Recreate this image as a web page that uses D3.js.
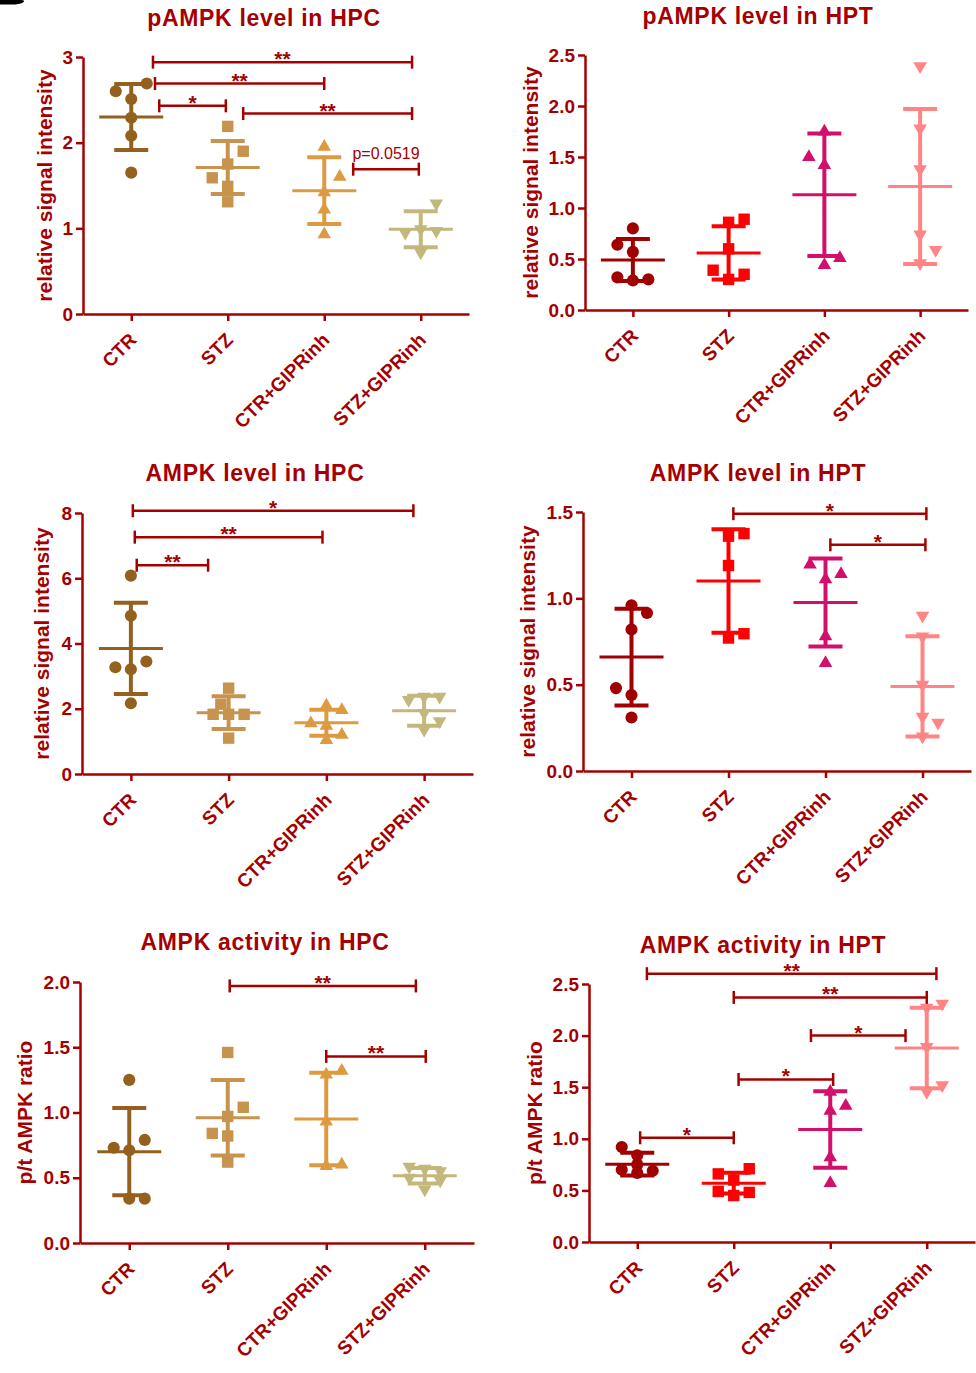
<!DOCTYPE html>
<html>
<head>
<meta charset="UTF-8">
<script src="https://d3js.org/d3.v7.min.js"></script>
<style>
  body { margin: 0; background: #fff; }
  text { font-family: "Liberation Sans", Arial, sans-serif; }
</style>
</head>
<body>
<div id="fig"></div>
<script>
const groups = ["CTR", "STZ", "CTR+GIPRinh", "STZ+GIPRinh"];
const hpcColors = ["#94601e", "#c8934c", "#de9a40", "#c3b87b"];
const hptColors = ["#a00000", "#ff0000", "#d2106c", "#ff8585"];

// pAMPK level in HPC
const pHpcValues = [
  [2.60, 2.69, 2.51, 2.29, 2.08, 1.65],
  [2.19, 1.90, 1.75, 1.59, 1.49, 1.31],
  [1.95, 1.60, 1.42, 1.22, 0.93],
  [1.29, 0.97, 0.99, 0.95, 0.72]
];
const pHpcCols = [[-1, 1, 0, 0, 0, 0], [0, 1, 0, -1, 0, 0], [0, 1, 0, 0, 0], [1, 1, 0, -1, 0]];
const pHpcMean = [2.30, 1.71, 1.44, 0.99];
const pHpcSd = [0.385, 0.31, 0.39, 0.21];
const pHpcTicks = [0, 1, 2, 3];
const pHpcBrackets = [[0.225, 2.91, 2.94, "**"], [0.246, 2.0, 2.69, "**"], [0.29, 0.98, 2.43, "*"],
  [1.16, 2.91, 2.34, "**"], [2.30, 2.98, 1.69, "p=0.0519"]];

// pAMPK level in HPT
const pHptValues = [
  [0.80, 0.64, 0.57, 0.32, 0.29, 0.30],
  [0.89, 0.86, 0.60, 0.39, 0.30, 0.35],
  [1.75, 1.50, 1.42, 0.44, 0.51],
  [2.39, 1.78, 1.38, 0.74, 0.59, 0.46]
];
const pHptCols = [[0, -1, 0, -1, 0, 1], [1, 0, 0, -1, 0, 1], [0, -1, 0, 0, 1], [0, 0, 0, 0, 1, 0]];
const pHptMean = [0.49, 0.56, 1.13, 1.21];
const pHptSd = [0.205, 0.26, 0.60, 0.76];
const pHptTicks = [0, 0.5, 1.0, 1.5, 2.0, 2.5];
const pHptBrackets = [];

// AMPK level in HPC
const tHpcValues = [
  [6.08, 4.85, 3.27, 3.21, 3.45, 2.17],
  [2.63, 2.14, 1.83, 1.83, 1.83, 1.10],
  [2.10, 1.96, 1.55, 1.48, 1.20, 1.04],
  [2.27, 2.37, 2.37, 1.87, 1.62, 1.36]
];
const tHpcCols = [[0, 0, -1, 0, 1, 0], [0, -0.5, -1, 0, 1, 0], [0, 1, -1, 0, 1, 0], [-1, 0, 1, 0, 1, 0]];
const tHpcMean = [3.85, 1.88, 1.57, 1.94];
const tHpcSd = [1.40, 0.50, 0.40, 0.46];
const tHpcTicks = [0, 2, 4, 6, 8];
const tHpcBrackets = [[0.02, 2.89, 8.07, "*"], [0.04, 1.96, 7.26, "**"], [0.06, 0.79, 6.40, "**"]];

// AMPK level in HPT
const tHptValues = [
  [0.96, 0.915, 0.82, 0.48, 0.44, 0.31],
  [1.36, 1.375, 1.19, 0.77, 0.795],
  [1.195, 1.14, 1.11, 0.78, 0.625],
  [0.90, 0.78, 0.50, 0.315, 0.28, 0.20]
];
const tHptCols = [[0, 1, 0, -1, 0, 0], [0, 1, 0, 0, 1], [-1, 1, 0, 0, 0], [0, 0, 0, 0, 1, 0]];
const tHptMean = [0.66, 1.10, 0.976, 0.49];
const tHptSd = [0.28, 0.30, 0.255, 0.29];
const tHptTicks = [0, 0.5, 1.0, 1.5];
const tHptBrackets = [[1.05, 3.04, 1.49, "*"], [2.05, 3.03, 1.31, "*"]];

// AMPK activity in HPC
const aHpcValues = [
  [1.25, 0.79, 0.73, 0.71, 0.34, 0.34],
  [1.46, 1.04, 0.97, 0.84, 0.82, 0.62],
  [1.29, 1.32, 0.93, 0.59, 0.60],
  [0.585, 0.57, 0.55, 0.50, 0.48, 0.41]
];
const aHpcCols = [[0, 1, -1, 0, 0, 1], [0, 1, 0, -1, 0, 0], [0, 1, 0, 0, 1], [-1, 0, 1, -1, 1, 0]];
const aHpcMean = [0.70, 0.96, 0.95, 0.515];
const aHpcSd = [0.335, 0.29, 0.355, 0.06];
const aHpcTicks = [0, 0.5, 1.0, 1.5, 2.0];
const aHpcBrackets = [[1.02, 2.91, 1.97, "**"], [2.0, 3.01, 1.43, "**"]];

// AMPK activity in HPT
const aHptValues = [
  [0.92, 0.84, 0.75, 0.70, 0.67, 0.69],
  [0.71, 0.66, 0.60, 0.49, 0.48, 0.45],
  [1.455, 1.32, 1.27, 0.82, 0.57],
  [2.31, 2.27, 1.89, 1.52, 1.455]
];
const aHptCols = [[-1, 0, 0, -1, 0, 1], [1, -1, 0, -1, 1, 0], [0, 1, 0, 0, 0], [1, 0, 0, 1, 0]];
const aHptMean = [0.754, 0.57, 1.09, 1.88];
const aHptSd = [0.11, 0.10, 0.37, 0.39];
const aHptTicks = [0, 0.5, 1.0, 1.5, 2.0, 2.5];
const aHptBrackets = [[0.10, 3.10, 2.60, "**"], [1.0, 3.0, 2.37, "**"], [1.80, 2.78, 2.00, "*"],
  [1.05, 2.03, 1.575, "*"], [0.03, 1.0, 1.01, "*"]];

const red = "#a50000";
const symbols = [d3.symbolCircle, d3.symbolSquare, d3.symbolTriangle, d3.symbolTriangle];
const symbolSizes = [115, 130, 80, 80];
const colStep = 15.5;

const svg = d3.select("#fig").append("svg")
  .attr("width", 976)
  .attr("height", 1373);

// cut-off bit of the panel letter in the corner
svg.append("path")
  .attr("d", "M0,0 L21,0 Q26,0 23,2.5 Q19,4.5 12,4.5 L0,4.5 Z")
  .attr("fill", "#000");

const panels = [
  { title: "pAMPK level in HPC", ylab: "relative signal intensity", values: pHpcValues, cols: pHpcCols,
    mean: pHpcMean, sd: pHpcSd, ticks: pHpcTicks, fmt: "d", brackets: pHpcBrackets, colors: hpcColors,
    left: 83, right: 469, top: 57, bottom: 314, tx: 264, ty: 26, lx: 52 },
  { title: "pAMPK level in HPT", ylab: "relative signal intensity", values: pHptValues, cols: pHptCols,
    mean: pHptMean, sd: pHptSd, ticks: pHptTicks, fmt: ".1f", brackets: pHptBrackets, colors: hptColors,
    left: 585, right: 968, top: 55, bottom: 310, tx: 758, ty: 24, lx: 538 },
  { title: "AMPK level in HPC", ylab: "relative signal intensity", values: tHpcValues, cols: tHpcCols,
    mean: tHpcMean, sd: tHpcSd, ticks: tHpcTicks, fmt: "d", brackets: tHpcBrackets, colors: hpcColors,
    left: 82, right: 473, top: 513, bottom: 774, tx: 255, ty: 481, lx: 49 },
  { title: "AMPK level in HPT", ylab: "relative signal intensity", values: tHptValues, cols: tHptCols,
    mean: tHptMean, sd: tHptSd, ticks: tHptTicks, fmt: ".1f", brackets: tHptBrackets, colors: hptColors,
    left: 583, right: 971, top: 512, bottom: 771, tx: 758, ty: 481, lx: 535 },
  { title: "AMPK activity in HPC", ylab: "p/t AMPK ratio", values: aHpcValues, cols: aHpcCols,
    mean: aHpcMean, sd: aHpcSd, ticks: aHpcTicks, fmt: ".1f", brackets: aHpcBrackets, colors: hpcColors,
    left: 80, right: 474, top: 982, bottom: 1243, tx: 265, ty: 950, lx: 32 },
  { title: "AMPK activity in HPT", ylab: "p/t AMPK ratio", values: aHptValues, cols: aHptCols,
    mean: aHptMean, sd: aHptSd, ticks: aHptTicks, fmt: ".1f", brackets: aHptBrackets, colors: hptColors,
    left: 589, right: 975, top: 984, bottom: 1242, tx: 763, ty: 953, lx: 542 }
];

function drawPanel(p) {
  const g = svg.append("g");

  const x = d3.scalePoint().domain(groups).range([p.left, p.right]).padding(0.5);
  // fractional category positions, used by the significance brackets
  const xi = d3.scaleLinear().domain([0, groups.length - 1])
    .range([x(groups[0]), x(groups[groups.length - 1])]);
  const y = d3.scaleLinear().domain([0, d3.max(p.ticks)]).range([p.bottom, p.top]);

  // title
  g.append("text")
    .attr("x", p.tx).attr("y", p.ty)
    .attr("text-anchor", "middle")
    .attr("font-size", 23).attr("font-weight", "bold")
    .attr("letter-spacing", 0.7)
    .attr("fill", red)
    .text(p.title);

  // y label
  g.append("text")
    .attr("transform", `translate(${p.lx},${(p.top + p.bottom) / 2}) rotate(-90)`)
    .attr("text-anchor", "middle")
    .attr("font-size", 21).attr("font-weight", "bold")
    .attr("fill", red)
    .text(p.ylab);

  // axes
  const yAxis = d3.axisLeft(y).tickValues(p.ticks).tickFormat(d3.format(p.fmt))
    .tickSize(7).tickSizeOuter(0).tickPadding(3);
  const ya = g.append("g").attr("transform", `translate(${p.left},0)`).call(yAxis);

  const xAxis = d3.axisBottom(x).tickSize(7).tickSizeOuter(0);
  const xa = g.append("g").attr("transform", `translate(0,${p.bottom})`).call(xAxis);

  [ya, xa].forEach(a => {
    a.select(".domain").attr("stroke", red).attr("stroke-width", 2.5);
    a.selectAll(".tick line").attr("stroke", red).attr("stroke-width", 2.5);
    a.selectAll("text")
      .attr("fill", red)
      .attr("font-size", 19)
      .attr("font-weight", "bold")
      .attr("font-family", "Liberation Sans, Arial, sans-serif");
  });

  xa.selectAll(".tick text")
    .attr("x", 0).attr("y", 0).attr("dy", 0)
    .attr("text-anchor", "end")
    .attr("transform", "translate(6,27) rotate(-45)");

  // mean and SD bars
  groups.forEach((grp, i) => {
    const cx = x(grp);
    const col = p.colors[i];
    const eg = g.append("g").attr("stroke", col);
    eg.append("line")
      .attr("x1", cx).attr("x2", cx)
      .attr("y1", y(p.mean[i] - p.sd[i])).attr("y2", y(p.mean[i] + p.sd[i]))
      .attr("stroke-width", 4);
    [p.mean[i] - p.sd[i], p.mean[i] + p.sd[i]].forEach(v => {
      eg.append("line")
        .attr("x1", cx - 17).attr("x2", cx + 17)
        .attr("y1", y(v)).attr("y2", y(v))
        .attr("stroke-width", 4);
    });
    eg.append("line")
      .attr("x1", cx - 32).attr("x2", cx + 32)
      .attr("y1", y(p.mean[i])).attr("y2", y(p.mean[i]))
      .attr("stroke-width", 3);

    // individual points
    g.append("g").selectAll("path")
      .data(p.values[i])
      .join("path")
      .attr("d", d3.symbol().type(symbols[i]).size(symbolSizes[i]))
      .attr("transform", (d, j) => {
        const tr = `translate(${cx + p.cols[i][j] * colStep},${y(d)})`;
        return i === 3 ? tr + " rotate(180)" : tr;
      })
      .attr("fill", col);
  });

  // significance brackets
  p.brackets.forEach(b => {
    const x1 = xi(b[0]), x2 = xi(b[1]), yy = y(b[2]);
    const bg = g.append("g").attr("stroke", red).attr("stroke-width", 2.5);
    bg.append("line").attr("x1", x1).attr("x2", x2).attr("y1", yy).attr("y2", yy);
    bg.append("line").attr("x1", x1).attr("x2", x1).attr("y1", yy - 6.5).attr("y2", yy + 6.5);
    bg.append("line").attr("x1", x2).attr("x2", x2).attr("y1", yy - 6.5).attr("y2", yy + 6.5);

    const isP = b[3].startsWith("p=");
    g.append("text")
      .attr("x", (x1 + x2) / 2)
      .attr("y", isP ? yy - 10 : yy + 4)
      .attr("text-anchor", "middle")
      .attr("font-size", isP ? 16 : 21)
      .attr("font-weight", isP ? "normal" : "bold")
      .attr("fill", red)
      .text(b[3]);
  });
}

panels.forEach(drawPanel);
</script>
</body>
</html>
